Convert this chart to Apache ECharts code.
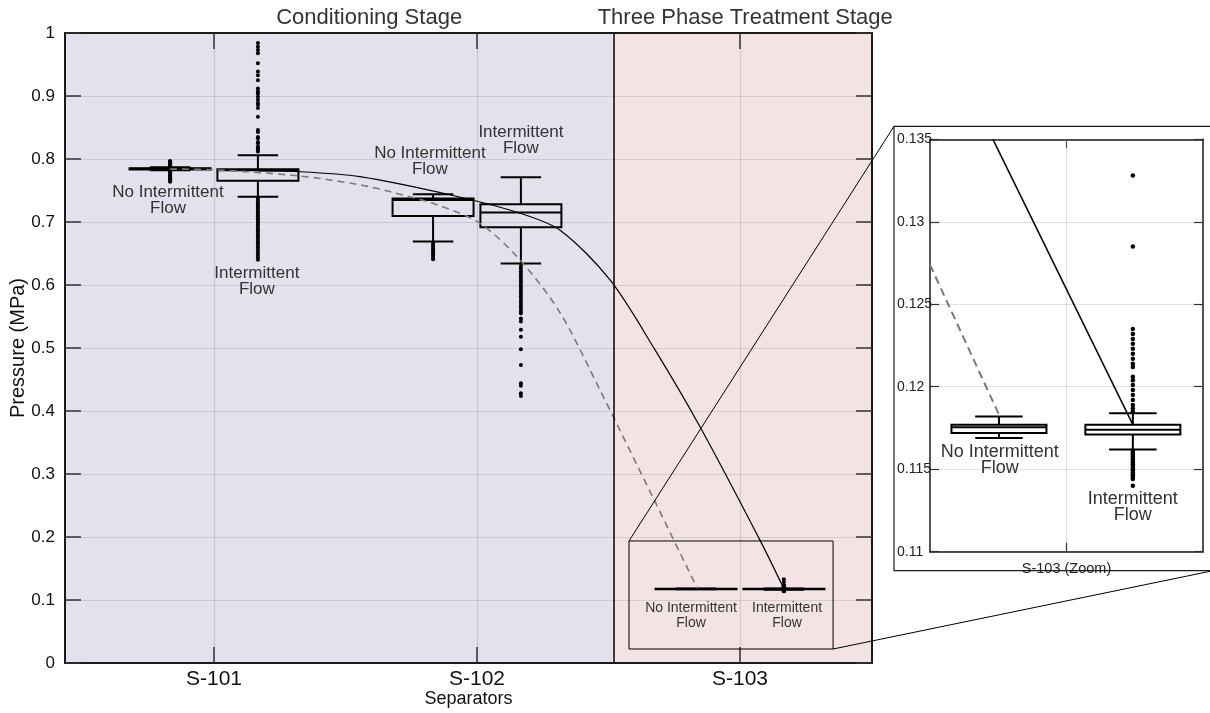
<!DOCTYPE html>
<html><head><meta charset="utf-8">
<script src="https://cdn.jsdelivr.net/npm/echarts@6/dist/echarts.min.js"></script>
<style>html,body{margin:0;padding:0;background:#fff}#c{width:1210px;height:713px}</style>
</head><body><div id="c"></div>
<script>
// ---------- DATA ----------
const separators = ['S-101', 'S-102', 'S-103'];
const sepPos = [1, 2, 3];
const flowOffset = 0.167;           // No Intermittent Flow at -offset, Intermittent Flow at +offset
const stageNames = ['Conditioning Stage', 'Three Phase Treatment Stage'];
const stageStart = [0.4335, 2.515];
const stageEnd = [2.515, 3.502];

// box stats [min, Q1, median, Q3, max] (MPa)
const noIntermittentBox = [
  [0.782, 0.7835, 0.7845, 0.7855, 0.787],
  [0.669, 0.7095, 0.735, 0.7375, 0.744],
  [0.1169, 0.1172, 0.11755, 0.1177, 0.1182]
];
const intermittentBox = [
  [0.740, 0.7656, 0.782, 0.7836, 0.806],
  [0.634, 0.6915, 0.715, 0.728, 0.771],
  [0.1162, 0.1171, 0.1174, 0.1177, 0.1184]
];
const noIntermittentOutliers = [
  [0.788, 0.789, 0.790, 0.791, 0.792, 0.793, 0.794, 0.795, 0.796, 0.797,
   0.781, 0.780, 0.779, 0.778, 0.777, 0.776, 0.775, 0.774, 0.773, 0.772, 0.771, 0.770, 0.769, 0.768, 0.767, 0.766, 0.765, 0.764],
  [0.667, 0.664, 0.661, 0.658, 0.655, 0.652, 0.649, 0.646, 0.643, 0.641],
  []
];
const intermittentOutliers = [
  [0.984, 0.978, 0.973, 0.968, 0.952, 0.939, 0.933, 0.925, 0.912, 0.907, 0.904, 0.899, 0.894, 0.889, 0.886, 0.881,
   0.867, 0.846, 0.843, 0.835, 0.833, 0.827, 0.825, 0.820, 0.817, 0.815, 0.812,
   0.738, 0.735, 0.731, 0.728, 0.725, 0.722, 0.718, 0.715, 0.712, 0.709, 0.706, 0.703, 0.700, 0.697, 0.694, 0.690,
   0.687, 0.684, 0.680, 0.677, 0.674, 0.670, 0.667, 0.664, 0.660, 0.656, 0.652, 0.648, 0.644, 0.640],
  [0.630, 0.626, 0.622, 0.618, 0.614, 0.610, 0.606, 0.602, 0.598, 0.594, 0.590, 0.586, 0.582, 0.578, 0.574, 0.570,
   0.566, 0.562, 0.558, 0.555, 0.547, 0.542, 0.529, 0.518, 0.498, 0.473, 0.444, 0.440, 0.428, 0.424],
  [0.1328, 0.1285, 0.1235, 0.1232, 0.1229, 0.1226, 0.1223, 0.1220, 0.1217, 0.1214, 0.1212, 0.1206, 0.1204, 0.1201,
   0.1198, 0.1195, 0.1192, 0.1189, 0.1187, 0.1185,
   0.1161, 0.1160, 0.1159, 0.1158, 0.1157, 0.1156, 0.1155, 0.1154, 0.1153, 0.1152, 0.1151, 0.1150, 0.1149,
   0.1148, 0.1147, 0.1146, 0.1145, 0.1144, 0.1140]
];

// trend curves (x in separator units, y in MPa)
const intermittentTrendX = [1.167, 1.319, 1.555, 1.909, 2.163, 2.316, 2.506, 2.677, 2.848, 3.076, 3.167];
const intermittentTrendY = [0.781, 0.780, 0.772, 0.742, 0.714, 0.687, 0.608, 0.497, 0.375, 0.195, 0.1177];
const noIntermittentTrendX = [0.833, 0.992, 1.327, 1.555, 1.681, 1.85, 2.011, 2.163, 2.316, 2.468, 2.677, 2.837];
const noIntermittentTrendY = [0.784, 0.783, 0.773, 0.759, 0.747, 0.727, 0.698, 0.640, 0.556, 0.433, 0.256, 0.119];
// trend segments seen in the zoom panel
const insetIntermittentTrendX = [2.818, 3.167];
const insetIntermittentTrendY = [0.135, 0.1177];
const insetNoIntermittentTrendX = [2.661, 2.835];
const insetNoIntermittentTrendY = [0.1274, 0.1182];

// zoom window on main chart
const zoomX = [2.578, 3.354];
const zoomY = [0.0222, 0.1937];
const insetXRange = [2.661, 3.342];
const insetYRange = [0.11, 0.135];

// annotation anchors
const labelText = ['No Intermittent\nFlow', 'Intermittent\nFlow', 'No Intermittent\nFlow', 'Intermittent\nFlow', 'No Intermittent\nFlow', 'Intermittent\nFlow'];
const labelX = [0.825, 1.163, 1.821, 2.167, 2.814, 3.179];
const labelY = [0.735, 0.606, 0.797, 0.829, 0.0754, 0.0754];
const insetLabelText = ['No Intermittent\nFlow', 'Intermittent\nFlow'];
const insetLabelX = [2.835, 3.167];
const insetLabelY = [0.11553, 0.11268];

// ---------- BUILD ----------
const FONT = "'Liberation Sans', Arial, Helvetica, sans-serif";
const stageColors = ['#e3e2ec', '#f3e3e4'];

function boxRows(idx) {
  const rows = [];
  idx.forEach(i => {
    rows.push([sepPos[i] - flowOffset].concat(noIntermittentBox[i]));
    rows.push([sepPos[i] + flowOffset].concat(intermittentBox[i]));
  });
  return rows;
}
function outlierRows(idx) {
  const rows = [];
  idx.forEach(i => {
    noIntermittentOutliers[i].forEach(v => rows.push([sepPos[i] - flowOffset, v]));
    intermittentOutliers[i].forEach(v => rows.push([sepPos[i] + flowOffset, v]));
  });
  return rows;
}
const zip = (xs, ys) => xs.map((x, i) => [x, ys[i]]);

function makeBoxRenderer(widthUnits, lw) {
  return function (params, api) {
    const x = api.value(0);
    const c = [1, 2, 3, 4, 5].map(i => api.coord([x, api.value(i)]));
    const w = api.size([widthUnits, 0])[0];
    const h = w / 2, cap = w / 4, cx = c[0][0];
    const st = { stroke: '#000', lineWidth: lw, fill: 'none' };
    return {
      type: 'group', children: [
        { type: 'line', shape: { x1: cx, y1: c[4][1], x2: cx, y2: c[3][1] }, style: st },
        { type: 'line', shape: { x1: cx, y1: c[1][1], x2: cx, y2: c[0][1] }, style: st },
        { type: 'line', shape: { x1: cx - cap, y1: c[4][1], x2: cx + cap, y2: c[4][1] }, style: st },
        { type: 'line', shape: { x1: cx - cap, y1: c[0][1], x2: cx + cap, y2: c[0][1] }, style: st },
        { type: 'rect', shape: { x: cx - h, y: c[3][1], width: w, height: Math.max(c[1][1] - c[3][1], 0.5) }, style: st },
        { type: 'line', shape: { x1: cx - h, y1: c[2][1], x2: cx + h, y2: c[2][1] }, style: st }
      ]
    };
  };
}

const axisLineStyle = { color: '#1a1a1a', width: 2 };
const gridLine = { show: true, lineStyle: { color: 'rgba(90,90,100,0.18)', width: 1.2 } };

const option = {
  animation: false,
  backgroundColor: '#fff',
  textStyle: { fontFamily: FONT },
  grid: [
    { left: 65, top: 33, width: 807, height: 630, outerBoundsMode: 'none', containLabel: false },
    { left: 930, top: 139.3, width: 273, height: 412.4, outerBoundsMode: 'none', containLabel: false }
  ],
  xAxis: [
    { type: 'value', gridIndex: 0, min: stageStart[0], max: stageEnd[1], z: 2,
      axisLine: { lineStyle: axisLineStyle },
      axisTick: { inside: true, length: 16, customValues: sepPos, lineStyle: { color: '#333', width: 1.5 } },
      axisLabel: { customValues: sepPos, formatter: v => separators[Math.round(v) - 1], fontSize: 21, color: '#111', margin: 6 },
      splitLine: gridLine,
      name: 'Separators', nameLocation: 'middle', nameGap: 27, nameMoveOverlap: false,
      nameTextStyle: { fontSize: 18, color: '#111', verticalAlign: 'top' } },
    { type: 'value', gridIndex: 0, position: 'top', min: stageStart[0], max: stageEnd[1], z: 2,
      axisLine: { onZero: false, lineStyle: axisLineStyle },
      axisTick: { inside: true, length: 16, customValues: sepPos, lineStyle: { color: '#333', width: 1.5 } },
      axisLabel: { show: false }, splitLine: { show: false } },
    { type: 'value', gridIndex: 1, min: insetXRange[0], max: insetXRange[1], z: 2,
      axisLine: { lineStyle: { color: '#1a1a1a', width: 1.5 } },
      axisTick: { inside: true, length: 9, customValues: [3], lineStyle: { color: '#333', width: 1.2 } },
      axisLabel: { show: false },
      splitLine: { show: true, lineStyle: { color: 'rgba(0,0,0,0.12)', width: 1.2 } },
      name: 'S-103 (Zoom)', nameLocation: 'middle', nameGap: 10, nameTextStyle: { fontSize: 14.5, color: '#222' } },
    { type: 'value', gridIndex: 1, position: 'top', min: insetXRange[0], max: insetXRange[1], z: 2,
      axisLine: { onZero: false, lineStyle: { color: '#1a1a1a', width: 1.5 } },
      axisTick: { inside: true, length: 9, customValues: [3], lineStyle: { color: '#555', width: 1.2 } },
      axisLabel: { show: false }, splitLine: { show: false } }
  ],
  yAxis: [
    { type: 'value', gridIndex: 0, min: 0, max: 1, interval: 0.1, z: 2,
      axisLine: { lineStyle: axisLineStyle },
      axisTick: { inside: true, length: 16, lineStyle: { color: '#333', width: 1.5 } },
      axisLabel: { fontSize: 17, color: '#111', margin: 10 },
      splitLine: gridLine,
      name: 'Pressure (MPa)', nameLocation: 'middle', nameGap: 37, nameMoveOverlap: false,
      nameTextStyle: { fontSize: 20, color: '#111' } },
    { type: 'value', gridIndex: 0, position: 'right', min: 0, max: 1, interval: 0.1, z: 2,
      axisLine: { onZero: false, lineStyle: axisLineStyle },
      axisTick: { inside: true, length: 16, lineStyle: { color: '#333', width: 1.5 } },
      axisLabel: { show: false }, splitLine: { show: false } },
    { type: 'value', gridIndex: 1, min: insetYRange[0], max: insetYRange[1], interval: 0.005, z: 2,
      axisLine: { lineStyle: { color: '#1a1a1a', width: 1.5 } },
      axisTick: { inside: true, length: 9, lineStyle: { color: '#333', width: 1.2 } },
      axisLabel: { align: 'left', margin: 33, color: '#222', fontSize: 14,
        formatter: v => String(+v.toFixed(3)) },
      splitLine: { show: true, lineStyle: { color: 'rgba(0,0,0,0.12)', width: 1.2 } } },
    { type: 'value', gridIndex: 1, position: 'right', min: insetYRange[0], max: insetYRange[1], interval: 0.005, z: 2,
      axisLine: { onZero: false, lineStyle: { color: '#1a1a1a', width: 1.5 } },
      axisTick: { inside: true, length: 9, lineStyle: { color: '#333', width: 1.2 } },
      axisLabel: { show: false }, splitLine: { show: false } }
  ],
  series: [
    { type: 'custom', name: 'stages', xAxisIndex: 0, yAxisIndex: 0, z: 1, silent: true,
      data: stageStart.map((s, i) => [s, stageEnd[i], i]),
      encode: { x: [0, 1], y: 2 },
      renderItem: (params, api) => {
        const p0 = api.coord([api.value(0), 1]);
        const p1 = api.coord([api.value(1), 0]);
        return { type: 'rect', shape: { x: p0[0], y: p0[1], width: p1[0] - p0[0], height: p1[1] - p0[1] },
          style: { fill: stageColors[api.value(2)] } };
      } },
    { type: 'custom', name: 'boxes', xAxisIndex: 0, yAxisIndex: 0, z: 3,
      data: boxRows([0, 1, 2]), encode: { x: 0, y: [1, 2, 3, 4, 5] },
      renderItem: makeBoxRenderer(0.308, 2) },
    { type: 'scatter', name: 'outliers', xAxisIndex: 0, yAxisIndex: 0, z: 3,
      data: outlierRows([0, 1, 2]), symbolSize: 4, itemStyle: { color: '#000', opacity: 1 } },
    { type: 'line', name: 'Intermittent trend', xAxisIndex: 0, yAxisIndex: 0, z: 4,
      data: zip(intermittentTrendX, intermittentTrendY), showSymbol: false, smooth: 0.3,
      lineStyle: { color: '#000', width: 1.2 } },
    { type: 'line', name: 'No intermittent trend', xAxisIndex: 0, yAxisIndex: 0, z: 4,
      data: zip(noIntermittentTrendX, noIntermittentTrendY), showSymbol: false, smooth: 0.3,
      lineStyle: { color: '#7a7a7a', width: 1.6, type: [7, 5] } },
    { type: 'line', name: 'zoom window', xAxisIndex: 0, yAxisIndex: 0, z: 4,
      data: [[zoomX[0], zoomY[1]], [zoomX[1], zoomY[1]], [zoomX[1], zoomY[0]], [zoomX[0], zoomY[0]], [zoomX[0], zoomY[1]]],
      showSymbol: false, lineStyle: { color: '#000', width: 1 },
      markLine: { silent: true, symbol: 'none', label: { show: false },
        lineStyle: { color: '#000', width: 1.5, type: 'solid' }, data: [{ xAxis: stageEnd[0] }] } },
    { type: 'scatter', name: 'labels', xAxisIndex: 0, yAxisIndex: 0, z: 5, symbolSize: 0,
      itemStyle: { opacity: 1 },
      data: labelText.map((t, i) => ({ value: [labelX[i], labelY[i]], name: t,
        label: { fontSize: i >= 4 ? 14 : 17, lineHeight: i >= 4 ? 15 : 16 } })),
      label: { show: true, position: 'inside', formatter: '{b}', color: '#333', fontFamily: FONT } },
    // inset
    { type: 'custom', name: 'inset boxes', xAxisIndex: 2, yAxisIndex: 2, z: 3,
      data: boxRows([2]), encode: { x: 0, y: [1, 2, 3, 4, 5] },
      renderItem: makeBoxRenderer(0.237, 2) },
    { type: 'scatter', name: 'inset outliers', xAxisIndex: 2, yAxisIndex: 2, z: 3,
      data: outlierRows([2]), symbolSize: 4.5, itemStyle: { color: '#000', opacity: 1 } },
    { type: 'line', name: 'inset intermittent trend', xAxisIndex: 2, yAxisIndex: 2, z: 4,
      data: zip(insetIntermittentTrendX, insetIntermittentTrendY), showSymbol: false,
      lineStyle: { color: '#000', width: 1.5 } },
    { type: 'line', name: 'inset no intermittent trend', xAxisIndex: 2, yAxisIndex: 2, z: 4,
      data: zip(insetNoIntermittentTrendX, insetNoIntermittentTrendY), showSymbol: false,
      lineStyle: { color: '#7a7a7a', width: 2, type: [8, 5] } },
    { type: 'scatter', name: 'inset labels', xAxisIndex: 2, yAxisIndex: 2, z: 5, symbolSize: 0,
      itemStyle: { opacity: 1 },
      data: insetLabelText.map((t, i) => ({ value: [insetLabelX[i], insetLabelY[i]], name: t })),
      label: { show: true, position: 'inside', formatter: '{b}', color: '#333', fontFamily: FONT, fontSize: 18, lineHeight: 16 } }
  ]
};

const chart = echarts.init(document.getElementById('c'));
chart.setOption(option);

// decorations derived from the axes
const zTL = chart.convertToPixel({ gridIndex: 0 }, [zoomX[0], zoomY[1]]);
const zBR = chart.convertToPixel({ gridIndex: 0 }, [zoomX[1], zoomY[0]]);
const iTL = chart.convertToPixel({ gridIndex: 1 }, [insetXRange[0], insetYRange[1]]);
const iBR = chart.convertToPixel({ gridIndex: 1 }, [insetXRange[1], insetYRange[0]]);
const fx0 = iTL[0] - 36, fy0 = iTL[1] - 13, fx1 = iBR[0] + 10, fy1 = iBR[1] + 19;
const stageMid0 = chart.convertToPixel({ xAxisIndex: 0 }, 1.59);
const stageMid1 = chart.convertToPixel({ xAxisIndex: 0 }, 3.02);
chart.setOption({
  graphic: [
    { type: 'rect', z: 0, shape: { x: fx0, y: fy0, width: fx1 - fx0, height: fy1 - fy0 },
      style: { fill: '#fff', stroke: '#1a1a1a', lineWidth: 1.2 } },
    { type: 'line', z: 10, shape: { x1: zTL[0], y1: zTL[1], x2: fx0, y2: fy0 }, style: { stroke: '#000', lineWidth: 1 } },
    { type: 'line', z: 10, shape: { x1: zBR[0], y1: zBR[1], x2: fx1, y2: fy1 }, style: { stroke: '#000', lineWidth: 1 } },
    { type: 'text', z: 10, x: stageMid0, y: 18, style: { text: stageNames[0], font: '22px ' + FONT, fill: '#333', align: 'center', verticalAlign: 'middle' } },
    { type: 'text', z: 10, x: stageMid1, y: 18, style: { text: stageNames[1], font: '22px ' + FONT, fill: '#333', align: 'center', verticalAlign: 'middle' } }
  ]
});
</script>
</body></html>
